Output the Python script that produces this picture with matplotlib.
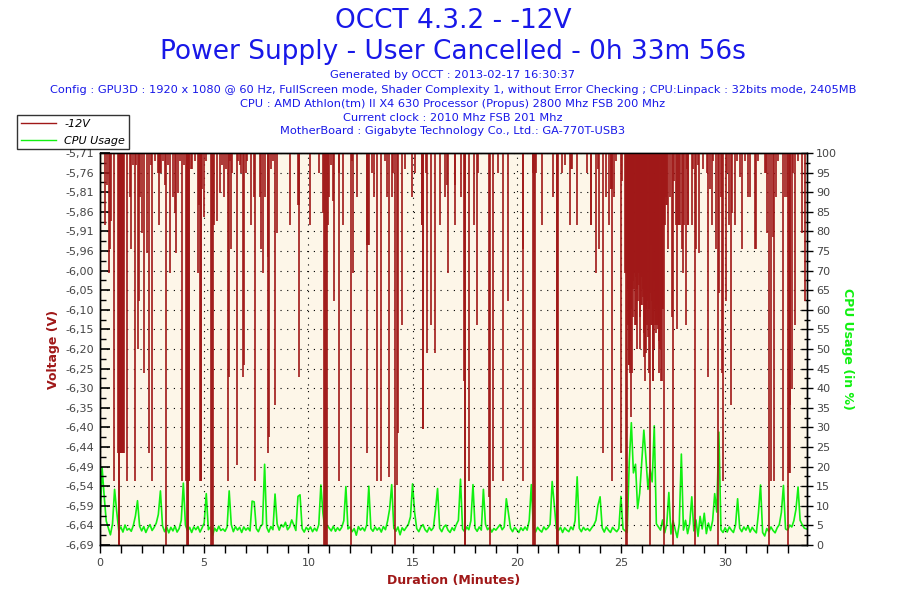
import numpy as np
import matplotlib
matplotlib.use("Agg")
import matplotlib.pyplot as plt
from matplotlib.lines import Line2D
from matplotlib.ticker import FixedLocator, MultipleLocator

# ---------------- data ----------------
duration_min = 33.93
volt_baseline = -5.70

volt_tick_values = [-5.71, -5.759, -5.808, -5.857, -5.906, -5.955, -6.004, -6.053, -6.102,
                    -6.151, -6.20, -6.249, -6.298, -6.347, -6.396, -6.445, -6.494, -6.543,
                    -6.592, -6.641, -6.69]
volt_tick_labels = ["-5,71", "-5,76", "-5,81", "-5,86", "-5,91", "-5,96", "-6,00", "-6,05",
                    "-6,10", "-6,15", "-6,20", "-6,25", "-6,30", "-6,35", "-6,40", "-6,44",
                    "-6,49", "-6,54", "-6,59", "-6,64", "-6,69"]
cpu_tick_values = [0, 5, 10, 15, 20, 25, 30, 35, 40, 45, 50, 55, 60, 65, 70, 75, 80, 85, 90, 95, 100]
x_tick_values = [0, 5, 10, 15, 20, 25, 30]

# -12V drops (minute, voltage reached)
spike_minutes = [
    0.26, 0.35, 0.42, 0.50, 0.54, 0.67,
    0.87, 0.89, 0.91, 0.93, 0.95, 0.97, 0.99, 1.01, 1.03, 1.05, 1.07, 1.09, 1.11, 1.13,
    1.31, 1.42, 1.50, 1.60, 1.66, 1.74, 1.84, 1.89, 1.94, 2.03, 2.11, 2.27, 2.34, 2.43, 2.51, 2.62,
    2.78, 2.82, 2.85, 2.88, 2.92, 3.02, 3.10, 3.15, 3.26, 3.34, 3.52, 3.58, 3.66, 3.74, 3.86, 3.95, 4.03,
    4.14, 4.16, 4.18, 4.20, 4.22, 4.24, 4.26, 4.28,
    4.35, 4.43, 4.54, 4.70, 4.75, 4.80, 4.83, 4.86, 4.91, 4.99, 5.07, 5.34, 5.37, 5.40,
    5.47, 5.62, 5.74, 5.86, 5.95, 6.06, 6.13, 6.18, 6.22, 6.30, 6.35, 6.56, 6.62, 6.70, 6.78,
    6.85, 6.90, 6.99, 7.06, 7.26, 7.38, 7.46, 7.66, 7.74, 7.82, 7.90, 8.06, 8.08, 8.10, 8.19,
    8.30, 8.42, 8.48,
    9.14, 9.51, 9.54, 9.57, 10.07, 10.53, 10.72, 10.76, 10.80, 10.84, 10.88, 10.92, 11.01,
    11.07, 11.20, 11.25, 11.46, 11.49, 11.68, 12.03, 12.10, 12.16, 12.35, 12.79, 12.82, 12.86,
    12.90, 13.07, 13.14, 13.31, 13.50, 13.70, 13.79, 13.89, 13.99, 14.08, 14.18, 14.23, 14.32,
    14.47, 14.66, 14.95, 15.10, 15.43, 15.46, 15.49, 15.52, 15.63, 15.70, 15.90, 16.10, 16.34,
    16.55, 16.63, 16.72, 17.03, 17.06, 17.31,
    17.46, 17.50, 17.54, 17.70, 17.96, 18.07, 18.15, 18.66, 18.70, 18.88, 19.12, 19.32, 19.60,
    20.28, 20.32, 20.77, 20.80, 20.84, 20.87, 20.93, 21.23, 21.72, 21.92, 21.95, 21.98, 22.15,
    22.34, 22.58, 22.62, 22.67, 22.87, 23.35, 23.54, 23.58, 23.78, 23.91, 23.97, 24.16, 24.26,
    24.45, 24.50, 24.53, 24.56, 24.59, 24.66, 24.76, 24.98, 25.03,
    25.200, 25.225, 25.250, 25.275, 25.300, 25.325, 25.350, 25.375,
    25.400, 25.425, 25.450, 25.475, 25.500, 25.525, 25.550, 25.575,
    25.600, 25.625, 25.650, 25.675, 25.700, 25.725, 25.750, 25.775,
    25.800, 25.825, 25.850, 25.875, 25.900, 25.925, 25.950, 25.975,
    26.000, 26.025, 26.050, 26.075, 26.100, 26.125, 26.150, 26.175,
    26.200, 26.225, 26.250, 26.275, 26.300, 26.325, 26.350, 26.375,
    26.400, 26.425, 26.450, 26.475, 26.500, 26.525, 26.550, 26.575,
    26.600, 26.625, 26.650, 26.675, 26.700, 26.725, 26.750, 26.775,
    26.800, 26.825, 26.850, 26.875, 26.900, 26.925, 26.950, 26.975,
    27.000, 27.025, 27.050, 27.075, 27.100, 27.125, 27.150, 27.175, 27.200,
    27.28, 27.36, 27.43, 27.48, 27.57, 27.64, 27.68, 27.73, 27.80, 27.84, 27.92, 28.00, 28.05,
    28.12, 28.16, 28.20, 28.24, 28.40, 28.45, 28.56, 28.61, 28.72, 28.76, 28.96, 29.12, 29.20,
    29.28, 29.36, 29.44, 29.57, 29.68, 29.73, 29.80, 29.84, 29.92, 30.04, 30.08, 30.20, 30.28,
    30.32, 30.48, 30.56, 30.72, 30.80, 30.96, 31.12, 31.20, 31.44, 31.48, 31.60, 31.92, 31.96,
    32.00, 32.13, 32.21, 32.32, 32.36, 32.42, 32.52, 32.76, 32.88, 32.96, 33.04, 33.07, 33.10,
    33.12, 33.20, 33.28, 33.36, 33.52, 33.68, 33.84,
]
spike_volts = [
    -5.89, -5.79, -6.01, -5.95, -5.88, -6.53,
    -6.46, -6.46, -6.70, -6.70, -6.46, -6.46, -6.46, -6.46, -6.46, -6.46, -6.46, -6.46, -6.46, -6.46,
    -6.53, -5.82, -5.95, -5.74, -6.53, -5.74, -6.20, -6.08, -5.82, -5.91, -6.26, -5.96, -6.46, -5.74, -6.53, -5.73,
    -5.76, -5.76, -5.89, -5.76, -5.76, -5.73, -5.79, -6.70, -5.74, -6.01, -5.82, -5.86, -5.96, -5.81, -5.73, -6.53, -5.74,
    -6.53, -6.53, -6.70, -6.70, -6.53, -6.70, -6.53, -6.53,
    -5.75, -5.75, -5.73, -6.01, -5.84, -6.53, -6.53, -6.53, -5.80, -5.87, -5.73, -6.70, -6.70, -6.70,
    -5.89, -5.88, -5.81, -5.74, -5.82, -5.75, -6.53, -6.27, -5.73, -5.95, -5.76, -6.49, -5.73, -5.74, -5.76,
    -6.27, -6.24, -5.76, -5.73, -5.89, -5.82, -6.53, -5.82, -5.95, -6.01, -5.82, -5.97, -6.46, -6.42, -5.75,
    -5.73, -6.34, -5.91,
    -5.89, -5.84, -5.84, -6.27, -5.89, -5.76, -5.86, -6.70, -6.70, -6.70, -6.70, -5.89, -5.82,
    -5.74, -5.83, -6.08, -6.53, -5.76, -5.89, -6.70, -5.73, -6.01, -5.82, -6.46, -5.94, -5.94,
    -5.94, -5.76, -5.82, -6.53, -6.53, -5.73, -5.82, -6.52, -5.82, -5.76, -6.70, -6.54, -6.41,
    -6.14, -5.75, -5.82, -5.76, -5.89, -5.89, -6.40, -6.40, -5.76, -6.21, -6.14, -6.21, -5.89,
    -5.82, -5.79, -6.01, -5.89, -5.79, -5.82,
    -6.28, -6.70, -6.70, -6.53, -5.89, -6.14, -5.76, -6.57, -6.70, -6.53, -5.76, -6.53, -6.08,
    -5.95, -6.53, -5.76, -6.70, -6.70, -6.70, -5.76, -5.89, -5.82, -6.70, -6.70, -6.70, -5.76,
    -5.74, -5.89, -5.75, -5.75, -5.89, -5.76, -5.89, -5.89, -6.01, -5.75, -5.95, -6.46, -5.82,
    -5.89, -5.80, -5.80, -6.53, -5.80, -5.82, -5.73, -6.46, -5.78,
    -6.01, -6.01, -6.70, -6.70, -5.89, -6.14, -6.05, -6.24,
    -6.24, -6.26, -6.18, -6.37, -6.10, -6.05, -6.26, -6.12,
    -6.03, -6.05, -6.01, -6.14, -6.02, -6.14, -6.20, -6.05,
    -6.01, -6.08, -6.01, -6.04, -6.12, -6.20, -6.09, -6.02,
    -6.02, -6.09, -6.05, -6.07, -6.22, -6.16, -6.28, -6.20,
    -6.21, -6.10, -6.14, -6.08, -6.17, -6.26, -6.10, -6.06,
    -6.70, -5.94, -6.14, -6.08, -6.14, -6.28, -6.28, -6.20,
    -6.03, -6.10, -6.14, -6.16, -6.14, -6.14, -6.09, -6.15,
    -6.14, -6.18, -6.26, -6.20, -6.28, -6.15, -6.28, -6.10,
    -5.89, -6.10, -6.70, -5.89, -5.89, -5.82, -5.84, -5.82, -5.84,
    -5.95, -5.82, -6.12, -6.70, -5.78, -5.89, -6.15, -5.89, -5.89, -5.89, -5.95, -6.01, -5.89,
    -6.14, -5.75, -5.89, -5.89, -5.89, -5.75, -6.70, -5.95, -5.74, -5.96, -5.75, -5.76, -6.27,
    -5.80, -5.89, -5.73, -5.95, -6.70, -6.06, -5.82, -6.26, -6.53, -6.08, -5.76, -5.89, -6.34,
    -5.86, -5.89, -5.73, -5.77, -5.95, -5.73, -5.82, -5.82, -5.95, -5.95, -5.73, -5.76, -5.76,
    -5.91, -6.70, -6.53, -5.92, -6.53, -5.82, -5.73, -6.53, -5.82, -5.82, -6.70, -6.51, -6.51,
    -6.34, -6.30, -5.76, -6.14, -5.73, -5.91, -6.08,
]

# CPU usage (%), one value every 0.1 minute, one row per minute
cpu_step_min = 0.1
cpu_usage = [
    5.2, 19.8, 12.5, 6.1, 4.3, 2.6, 5.4, 14.2, 8.6, 3.7,      # 0
    4.6, 3.3, 5.1, 3.8, 4.2, 3.5, 5.0, 7.4, 11.3, 4.8,        # 1
    3.6, 4.7, 3.2, 4.4, 5.2, 3.7, 4.5, 5.6, 7.8, 13.8,        # 2
    4.9, 3.4, 4.6, 3.1, 4.5, 3.6, 4.8, 3.3, 4.2, 6.3,         # 3
    15.8, 5.1, 3.6, 4.5, 3.2, 4.6, 3.9, 4.7, 3.3, 4.4,        # 4
    5.6, 13.1, 3.9, 4.6, 2.4, 4.3, 3.5, 4.8, 3.7, 4.1,        # 5
    3.5, 4.6, 13.8, 5.2, 3.4, 4.7, 3.8, 4.5, 3.2, 4.6,        # 6
    3.8, 4.4, 3.6, 11.2, 11.0, 4.2, 3.4, 4.7, 5.3, 20.6,      # 7
    4.5, 3.3, 4.7, 3.9, 13.0, 5.4, 3.8, 5.2, 4.6, 5.8,        # 8
    3.9, 4.6, 6.4, 5.1, 3.7, 12.4, 12.8, 4.2, 3.3, 4.5,       # 9
    3.8, 4.6, 3.4, 4.3, 3.6, 5.2, 15.3, 8.1, 3.9, 5.0,        # 10
    4.3, 3.6, 4.8, 3.5, 4.4, 3.7, 4.5, 6.2, 14.9, 4.1,        # 11
    4.6, 3.4, 4.2, 2.5, 4.7, 3.8, 4.4, 3.6, 5.1, 15.0,        # 12
    4.2, 3.5, 4.6, 3.8, 4.4, 3.3, 4.7, 3.9, 6.1, 9.2,         # 13
    15.4, 4.3, 3.5, 4.6, 2.6, 4.4, 3.7, 4.5, 5.3, 7.2,        # 14
    15.6, 8.3, 4.2, 3.4, 4.6, 5.2, 3.9, 3.3, 4.5, 3.7,        # 15
    4.4, 9.0, 14.4, 4.3, 3.4, 4.6, 5.1, 3.8, 3.2, 4.4,        # 16
    3.7, 5.2, 6.3, 16.8, 4.1, 3.4, 4.6, 3.9, 6.2, 15.4,       # 17
    4.3, 3.5, 4.6, 3.8, 14.2, 5.3, 3.9, 4.5, 3.3, 4.2,        # 18
    3.8, 4.5, 5.2, 3.9, 4.6, 11.8, 8.2, 4.3, 3.4, 4.5,        # 19
    3.9, 3.2, 4.4, 3.7, 4.6, 3.8, 6.3, 15.4, 4.4, 3.3,        # 20
    4.5, 3.8, 3.3, 4.6, 3.9, 4.4, 5.3, 16.2, 10.4, 4.2,       # 21
    3.7, 4.5, 3.2, 4.4, 3.8, 3.4, 4.6, 3.9, 6.2, 17.4,        # 22
    4.3, 3.4, 4.5, 3.8, 4.2, 3.6, 4.4, 5.1, 6.3, 10.2,        # 23
    12.3, 4.4, 3.3, 4.6, 3.8, 3.2, 4.5, 3.9, 3.4, 4.2,        # 24
    12.4, 4.1, 3.6, 3.2, 21.3, 31.2, 18.4, 20.6, 9.3, 13.2,   # 25
    21.4, 29.3, 22.1, 14.2, 19.3, 16.1, 30.4, 5.4, 4.6, 3.8,  # 26
    6.4, 3.1, 5.3, 13.4, 2.8, 6.2, 4.1, 1.9, 5.4, 23.2,       # 27
    3.8, 6.3, 2.9, 5.4, 12.3, 3.6, 6.4, 2.2, 7.3, 4.1,        # 28
    8.1, 2.9, 5.6, 3.7, 6.2, 13.1, 8.4, 28.8, 3.9, 3.2,       # 29
    4.4, 3.3, 4.6, 3.8, 3.2, 5.1, 11.8, 4.3, 3.4, 4.6,        # 30
    3.8, 4.9, 3.3, 4.5, 3.7, 3.1, 8.2, 15.3, 3.2, 2.3,        # 31
    4.2, 3.4, 4.6, 3.7, 3.1, 4.4, 5.2, 8.3, 15.2, 4.1,        # 32
    3.8, 5.1, 4.6, 6.2, 9.1, 14.8, 6.3, 5.2, 4.3, 4.1,        # 33
]

# ---------------- style ----------------
RED = "#A01818"
GREEN = "#11F011"
BLUE = "#1818E8"
BG = "#FDF6E8"
TICKCOL = "#444444"

plt.rcParams['font.family'] = ['DejaVu Sans']

fig = plt.figure(figsize=(9, 6), dpi=100)
ax = fig.add_axes([100 / 900, 55 / 600, 707 / 900, 392 / 600])
ax2 = ax.twinx()

ax2.set_zorder(1)
ax.set_zorder(2)
ax.patch.set_visible(False)
ax2.patch.set_facecolor(BG)
ax2.patch.set_visible(True)

# voltage drops
ax.vlines(spike_minutes, spike_volts, volt_baseline, colors=RED, linewidth=1.2)
ax.set_ylim(-6.69, -5.71)
ax.set_xlim(0, duration_min)

# cpu
cpu_t = np.arange(len(cpu_usage)) * cpu_step_min
ax2.plot(cpu_t, cpu_usage, color=GREEN, linewidth=1.2)
ax2.set_ylim(0, 100)

# ticks & grid
ax.yaxis.set_major_locator(FixedLocator(volt_tick_values))
ax.set_yticklabels(volt_tick_labels)
minor_v = [(a + b) / 2 for a, b in zip(volt_tick_values[:-1], volt_tick_values[1:])]
ax.yaxis.set_minor_locator(FixedLocator(minor_v))
ax.xaxis.set_major_locator(FixedLocator(x_tick_values))
ax.xaxis.set_minor_locator(MultipleLocator(1))
ax2.yaxis.set_major_locator(FixedLocator(cpu_tick_values))
ax2.yaxis.set_minor_locator(MultipleLocator(2.5))

ax.tick_params(axis='y', which='major', direction='in', length=7, width=1.2,
               labelsize=8, labelcolor=TICKCOL, pad=4)
ax.tick_params(axis='y', which='minor', direction='in', length=4, width=1)
ax.tick_params(axis='x', which='major', direction='out', length=6, width=1,
               labelsize=8, labelcolor=TICKCOL, pad=3)
ax.tick_params(axis='x', which='minor', direction='out', length=6, width=1)
ax2.tick_params(axis='y', which='major', direction='inout', length=9, width=1,
                labelsize=8, labelcolor=TICKCOL, pad=2)
ax2.tick_params(axis='y', which='minor', direction='inout', length=5, width=1)

ax.grid(True, which='major', axis='both', color='black', linestyle=(0, (1, 5)), linewidth=0.8)
for a in (ax, ax2):
    for s in a.spines.values():
        s.set_color('black')
        s.set_linewidth(1)

ax.set_ylabel("Voltage (V)", color=RED, fontsize=9, fontweight='bold', labelpad=4)
ax2.set_ylabel("CPU Usage (in %)", color=GREEN, fontsize=9, fontweight='bold',
               rotation=270, labelpad=12)
ax.set_xlabel("Duration (Minutes)", color=RED, fontsize=9, fontweight='bold', labelpad=5)

# titles
fig.text(453 / 900, 1 - 21 / 600, "OCCT 4.3.2 - -12V", color=BLUE, fontsize=19,
         ha='center', va='center')
fig.text(453 / 900, 1 - 52 / 600, "Power Supply - User Cancelled - 0h 33m 56s", color=BLUE,
         fontsize=19, ha='center', va='center')
info_lines = [
    "Generated by OCCT : 2013-02-17 16:30:37",
    "Config : GPU3D : 1920 x 1080 @ 60 Hz, FullScreen mode, Shader Complexity 1, without Error Checking ; CPU:Linpack : 32bits mode, 2405MB",
    "CPU : AMD Athlon(tm) II X4 630 Processor (Propus) 2800 Mhz FSB 200 Mhz",
    "Current clock : 2010 Mhz FSB 201 Mhz",
    "MotherBoard : Gigabyte Technology Co., Ltd.: GA-770T-USB3",
]
info_y = [75, 90, 104, 118, 131]
for txt, yy in zip(info_lines, info_y):
    fig.text(453 / 900, 1 - yy / 600, txt, color=BLUE, fontsize=8.2, ha='center', va='center')

# legend
handles = [Line2D([], [], color=RED, linewidth=1), Line2D([], [], color=GREEN, linewidth=1)]
leg = fig.legend(handles, ["-12V", "CPU Usage"], loc='upper left',
                 bbox_to_anchor=(17 / 900, 1 - 115 / 600), frameon=True, fancybox=False,
                 prop={'size': 8, 'style': 'italic'}, borderpad=0.35, labelspacing=0.6,
                 handlelength=3.2, handletextpad=0.7, borderaxespad=0)
leg.get_frame().set_edgecolor('black')
leg.get_frame().set_linewidth(1)
leg.set_zorder(10)

fig.savefig("out.png", dpi=100, facecolor='white')
